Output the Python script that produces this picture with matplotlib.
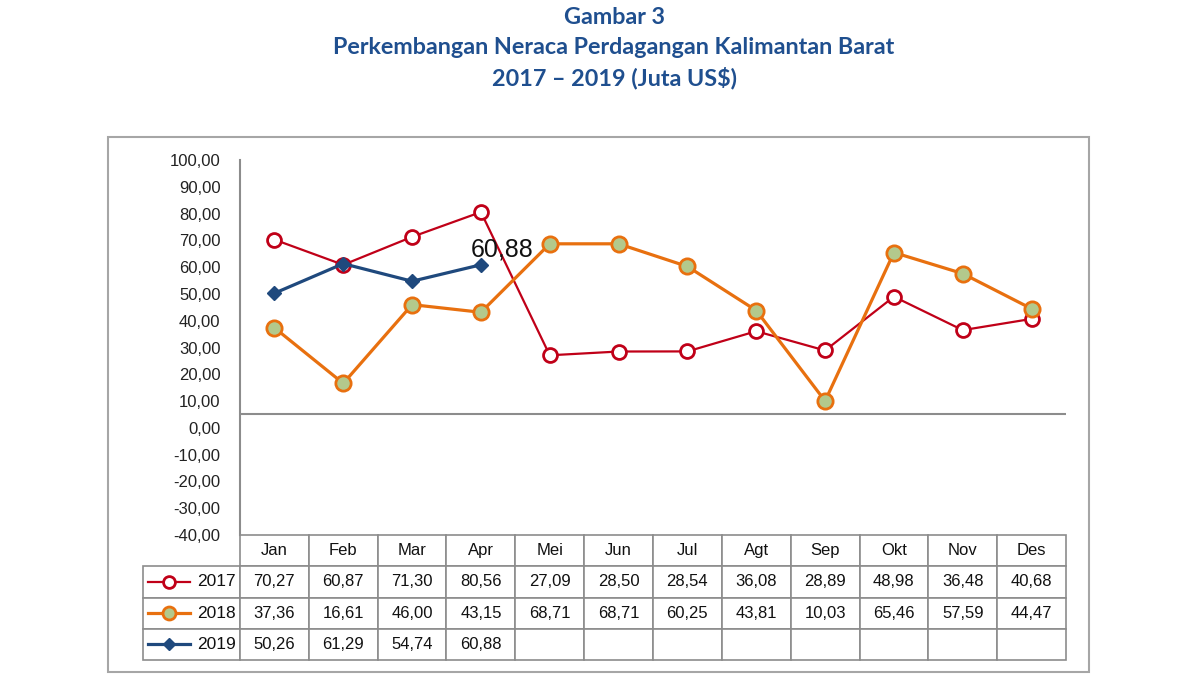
import matplotlib
matplotlib.use("Agg")
import matplotlib.pyplot as plt
from matplotlib.patches import Rectangle
from matplotlib.ticker import FuncFormatter

plt.rcParams["font.family"] = ["Liberation Sans", "DejaVu Sans"]

months = ["Jan", "Feb", "Mar", "Apr", "Mei", "Jun", "Jul", "Agt", "Sep", "Okt", "Nov", "Des"]
years = ["2017", "2018", "2019"]
val_2017 = [70.27, 60.87, 71.30, 80.56, 27.09, 28.50, 28.54, 36.08, 28.89, 48.98, 36.48, 40.68]
val_2018 = [37.36, 16.61, 46.00, 43.15, 68.71, 68.71, 60.25, 43.81, 10.03, 65.46, 57.59, 44.47]
val_2019 = [50.26, 61.29, 54.74, 60.88]

title_lines = ["Gambar 3",
               "Perkembangan Neraca Perdagangan Kalimantan Barat",
               "2017 \u2013 2019 (Juta US$)"]


def fmt(v):
    return f"{v:.2f}".replace(".", ",")


W, H = 1200, 675
fig = plt.figure(figsize=(12, 6.75), dpi=100)

# plot area in pixels: x 240..1066, y 160..535
ax = fig.add_axes([240 / W, (H - 535) / H, 826 / W, 375 / H])

styles = [
    dict(color="#C00018", lw=1.6, marker="o", ms=10, mfc="white", mec="#C00018", mew=2),
    dict(color="#E8700F", lw=2.3, marker="o", ms=11, mfc="#B3C98C", mec="#E8700F", mew=2),
    dict(color="#1F497D", lw=2.3, marker="D", ms=7, mfc="#1F497D", mec="#1F497D", mew=1),
]
series = [val_2017, val_2018, val_2019]

x_all = list(range(len(months)))
for vals, st in zip(series, styles):
    ax.plot(x_all[:len(vals)], vals, zorder=3, **st)

ax.annotate(fmt(val_2019[-1]), (3, val_2019[-1]), xytext=(-7, 6),
            textcoords="offset points", fontsize=18, ha="left", va="baseline",
            color="#111111", zorder=4)

ax.set_xlim(-0.5, 11.5)
ax.set_ylim(-40, 100)
ax.set_yticks(range(-40, 101, 10))
ax.yaxis.set_major_formatter(FuncFormatter(lambda v, _: fmt(v)))
ax.tick_params(axis="y", length=0, pad=14, labelsize=12, labelcolor="#222222")
ax.set_xticks([])
for s in ["top", "right", "bottom"]:
    ax.spines[s].set_visible(False)
ax.spines["left"].set_color("#8C8C8C")
ax.spines["left"].set_linewidth(1.5)
ax.axhline(5, color="#8C8C8C", lw=1.5, zorder=1)

# data table below the plot
leg_w = 97 / 826
cells = []
for y, vals in zip(years, series):
    cells.append([""] + [fmt(v) for v in vals] + [""] * (len(months) - len(vals)))
tab_h = 125 / 375
tbl = ax.table(cellText=cells, colLabels=[""] + months,
               colWidths=[leg_w] + [1 / 12] * 12, cellLoc="center",
               bbox=[-leg_w, -tab_h, 1 + leg_w, tab_h])
tbl.auto_set_font_size(False)
tbl.set_fontsize(12)
for (r, c), cell in tbl.get_celld().items():
    cell.set_edgecolor("#8C8C8C")
    cell.set_linewidth(1.2)
    cell.get_text().set_color("#111111")
tbl[0, 0].set_visible(False)

# legend entries inside first column
row_h = tab_h / 4
for i, (y, st) in enumerate(zip(years, styles)):
    yc = -row_h * (i + 1.5)
    x0, x1 = -leg_w + 5 / 826, -leg_w + 47 / 826
    ax.plot([x0, x1], [yc, yc], transform=ax.transAxes, clip_on=False,
            color=st["color"], lw=st["lw"], zorder=5)
    ax.plot([(x0 + x1) / 2], [yc], transform=ax.transAxes, clip_on=False,
            marker=st["marker"], ms=st["ms"] * 0.85, mfc=st["mfc"], mec=st["mec"],
            mew=st["mew"], zorder=6)
    ax.text(-4 / 826, yc, y, transform=ax.transAxes, ha="right", va="center",
            fontsize=12.5, color="#111111", zorder=6)

# outer chart frame
fig.add_artist(Rectangle((108 / W, (H - 672) / H), (1089 - 108) / W, (672 - 137) / H,
                         transform=fig.transFigure, fill=False, ec="#A6A6A6", lw=1.5))

for txt, ypx in zip(title_lines, [17, 47, 78]):
    fig.text(614 / W, 1 - ypx / H, txt, ha="center", va="center", fontsize=16.8,
             fontweight="bold", color="#1F4F8F", family=["Lato", "DejaVu Sans"])

fig.savefig("out.png", dpi=100)
plt.close(fig)
